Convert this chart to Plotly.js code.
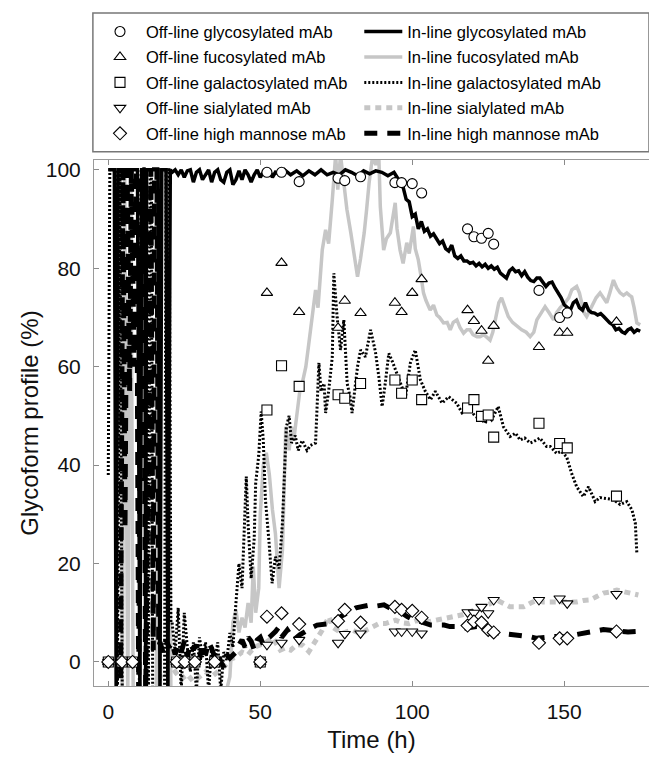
<!DOCTYPE html>
<html><head><meta charset="utf-8">
<script src="https://cdn.plot.ly/plotly-3.0.1.min.js"></script>
<style>html,body{margin:0;padding:0;background:#fff}#chart{width:649px;height:757px}</style>
</head><body><div id="chart"></div>
<script>
// ---------- Off-line (sampled) data ----------
const offTime = [0,4.5,8,22.5,25.2,28.5,35,50,52.2,57,62.8,75.6,77.8,83,94.3,96.5,100,103.1,118.2,120.3,122.8,125,126.8,141.7,148.5,151,167.2];
const offGlycosylated = [0,0,0,0,0,0,0,0,99.5,99.5,97.6,98.3,97.8,98.6,97.4,97.4,97.2,95.3,88,86.4,86.1,87.1,84.9,75.5,70,70.9,null];
const offFucosylated  = [0,0,0,0,0,0,0,0,75.0,81.1,71.1,67.9,73.4,70.9,73.0,71.1,75.0,77.8,71.5,69.3,67.3,61.2,68.3,64.0,66.9,66.9,69.1];
const offGalactosylated = [0,0,0,0,0,0,0,0,51.2,60.2,56.0,54.3,53.6,56.6,57.3,54.6,57.3,53.3,51.6,53.3,49.9,50.2,45.7,48.5,44.4,43.5,33.7];
const offSialylated = [0,0,0,0,0,0,0,0,3.5,3.9,4.5,3.9,5.7,5.8,6.2,6.2,6.2,5.8,10.1,10.0,11.2,9.9,12.6,12.6,12.9,11.9,13.8];
const offHighMannose = [0,0,0,0,0,0,0,0,9.2,9.9,7.7,8.3,10.6,8.0,11.2,10.6,10.4,9.0,7.4,8.2,8.0,6.5,6.0,3.9,4.8,4.8,6.2];

// ---------- In-line (continuous) data, [time h, %] ----------
const inGlycosylated = [[0,100],[2,100],[2.6,-8],[3.2,100],[9.6,100],[10.4,-8],[11,100],[12,100],[12.3,-8],[12.6,100],[16.4,100],[17,-8],[17.6,100],[19,100],[19.6,-8],[20.4,100],
[21,99.5],[22,100],[23,99],[24,100],[25,98.5],[26,99.8],[27,100],[28,97.5],[29,99.5],[30,100],[31,98],[32,99],[33,100],[34,97.5],[35,99.5],[36,100],[37,98],[38,97.5],[39,99.5],[40,100],[41,97],[42,98],[43,99.8],[44,98],[45,100],[46,99],[47,97.5],[48,99],[49,100],[50,98.5],[51,99.5],[52,99],[53,100],[54,98.5],[55,99.5],[57,99],[58,100],
[60,99],[62,99.8],[64,98.8],[66,99.8],[68,99],[70,100],[72,99],[74,99.5],[76,99],[78,100],[80,99.5],[82,98.8],[84,99.8],[86,99.2],[88,99.8],[90,99.5],[92,98.8],[94,99.5],
[95,98.5],[96,97.5],[97,96.5],[98,94],[99,93.5],[100,90.5],[101,91],[102,88],[103,89.5],[104,87.5],[105,88],[106,86.5],[107,87],[108,86],[109,85],[110,85.5],[111,84],[112,83.5],[113,84.7],[114,82.5],[115,82],[116,82.5],[117,81.5],[118,81.5],[119,81],[120,81.2],[121,80.5],[122,81],[123,80.3],[124,80.8],[125,80],[126,80.5],[127,79.8],[128,80.2],[129,79],[130,78.5],[131,78],[132,79.5],[133,80],[134,79.3],[135,79.5],[136,78.5],[137,79.3],[138,78.2],[139,77.5],[140,77.3],[141,78],[142,78],[143,77],[144,76.3],[145,77],[146,77.2],[147,76],[148,75],[149,74],[150,72.6],[151,72],[152,71.5],[153,73],[154,73.5],[155,72],[156,71.5],[157,73],[158,71.5],[159,71],[160,70.9],[161,70.5],[162,70.8],[163,70.2],[164,69.5],[165,68.9],[166,68.5],[167,67.5],[168,67.8],[169,67.1],[170,66.8],[171,67.5],[172,67.8],[173,67],[174,67.5],[175,67.2]];

const inFucosylated = [[3.8,100],[4.6,-8],[5.4,100],[6.4,-8],[7.4,100],[8.2,-8],[15.8,-8],[16.3,100],[19.8,100],[20.6,-8],[38,-8],
[40,-3],[41,8],[42,10.6],[43,6],[44,9],[45,7],[46,12],[47,8],[47.7,19.4],[48.5,10],[49.5,15],[50,30],[51,40],[52,42.5],[53,38],[54,31],[55,26],[56.2,15],[57.3,22.8],[58.4,47.8],[59.5,43],[60.3,47.8],[61,45],[62,50],[63,55],[63.8,56.6],[65,60],[66,64.8],[67,70],[68.2,75.6],[69,72],[70.4,83.7],[71.5,87.8],[72.5,85],[73.7,93.9],[74.8,103],[75.5,96],[76.4,103],[77.5,97.3],[78.5,92],[79.8,87.2],[81,82],[82,78.3],[83,82],[84.2,87.2],[85,92],[85.8,97.3],[87,103],[88,101],[89,103],[89.5,92.5],[90.6,83.7],[91.5,86],[92.8,87.2],[94.4,93.3],[95,88],[96,83.7],[97,81],[98.2,85.2],[99,83],[100.4,88.5],[101,84],[102,81.7],[103,78],[103.7,75],[104.5,73.5],[105.9,71.5],[107,72.5],[108.1,70.5],[109,70],[110.3,68.9],[111.5,69],[112.5,67.5],[113.5,69],[114.7,69.5],[115.7,68],[116.9,66.8],[118,67.5],[119,67.5],[120,66.5],[121.3,66.1],[122.3,66.1],[123.5,66.5],[124.5,66],[125.6,65.4],[126.5,67],[127.8,70.9],[128.5,73],[129.4,74],[130.5,72],[131.6,70.2],[133,69],[134.4,68.2],[136,67.5],[137.5,67],[138.8,66.1],[140,67],[141,69.5],[142.5,71],[143.7,72.2],[145,71],[146.5,69.5],[147.5,71],[148.7,72],[150.3,73],[151.5,74],[152.5,75.6],[154.1,76.3],[155,75],[155.8,73],[156.5,71],[157.4,70.2],[158.5,71.5],[159.6,73],[160.5,74],[161.8,75],[163,74],[164,73],[165,75],[166.2,77.6],[167.3,76],[168.4,75],[169.5,74.5],[170.6,75],[171.5,74.5],[172.2,74.2],[173,72],[173.9,68.9],[175,68.5]];

const inGalactosylated = [[0,38],[0.5,100],[2.5,100],[3,-8],[3.8,100],[4.6,-8],[10.2,-8],[10.8,100],[12.6,100],[13.2,-8],[13.8,100],[14.2,100],[14.6,-8],[18.5,-8],[19,100],[20,100],[20.6,8],
[21,8],[22,2],[23,11],[24,-6],[25,10],[26,3],[27,-2],[28,4],[29,-6],[30,5],[31,1],[32,4],[33,-6],[34,3],[35,0],[36,4],[37,-6],[38,2],[39,0.4],[40,5.9],[41,3],[42,12],[43,20],[44,15],[45.4,37.7],[46,28],[47,17],[48,25],[48.5,36.4],[49.5,42],[50.3,50.9],[51,45],[51.7,33],[52.8,25],[53.9,16],[55,21.4],[56.2,19],[57.3,28.2],[58,40],[58.6,47.8],[59.5,50],[60.3,44.5],[61.5,46],[62.5,43],[63.8,45],[65.4,43],[66.5,44],[68.2,44.5],[69.3,60.8],[70,55],[71,56.6],[71.5,50.6],[72.5,55],[73.7,62],[74.2,79],[75.3,70],[76.4,63.4],[77.5,69.5],[78.6,56.6],[79.5,54],[80.2,50.6],[81.3,56],[82,60],[83,63.4],[84.6,62],[86.3,67.5],[87.9,63],[89,58],[90.1,51.9],[91,56],[92.3,62.7],[93.5,61],[94.5,59.3],[96.1,57],[97.8,53.9],[98.5,57],[99.4,60.8],[101,63.4],[102.7,57.3],[104.3,55],[106,53.3],[107.6,55],[109.8,52.6],[112,53.9],[114.6,52.6],[116.4,50.6],[118.6,51.5],[120.8,49.9],[123,49.2],[124,48.5],[125,50],[126.1,49.2],[128.3,51.9],[130,47.8],[132.2,45.8],[134,46.5],[135.5,45.1],[137,45.5],[138.8,44.5],[140,44.8],[142,45.5],[144.2,43.8],[145.4,43.8],[147.5,42.4],[149,42.8],[150.8,41.7],[152.4,38.4],[154.1,35.6],[156.3,33.6],[158,35.6],[160.2,32.6],[161.8,33.4],[164,33.2],[166.2,33],[168.4,32],[170.6,32.6],[172.3,30.9],[173.4,28.2],[173.9,22.1]];

const inSialylated = [[15.8,-8],[17,-3],[18,-2],[20,-3],[22,-2],[24,-3.5],[26,-2.5],[28,-4],[30,-3],[32,-2],[34,-3],[36,-2],[38,-1],[40,0.5],[42,1],[44,2],[46,1.5],[48,3],[50,3.5],[52,4],[54,5],[56.6,2.4],[58,2.8],[60,2.4],[62,3.5],[64,3.4],[66,2.1],[68,4],[70.4,6.5],[72.6,9.2],[74,7],[77,5.8],[78.5,6.2],[80.2,6.5],[82,6],[83.5,5.8],[85,6.5],[86.8,7.2],[89,7.8],[91.2,7.8],[93,8.2],[94.5,8.5],[96.5,8],[98.9,7.8],[101,8.3],[103.3,8.5],[105.5,8.2],[107.7,8.5],[110,8.8],[112.1,9.2],[114,9.2],[116.5,9.6],[119,10.2],[120.8,10.6],[123.4,11.2],[125.5,11.8],[127.8,12.6],[130,12],[132.2,11.2],[134.5,11.2],[136.6,11.2],[139,12],[141,12.6],[143,12.2],[145.4,12.2],[147.5,12.3],[149.8,12.2],[152,12.4],[154.1,12.2],[156.3,12.5],[158.5,12.6],[160.7,13.3],[162.9,14],[165,14.2],[167.3,14.6],[169.5,14.3],[171.6,14],[174.4,13.6]];

const inHighMannose = [[4,-8],[4.8,100],[5.5,27],[6.2,100],[7,55],[7.6,100],[8.5,60],[9.3,100],[10,-8],[10.8,100],[11.5,100],[11.9,-8],[12.3,-8],[14,100],[14.8,2.4],[15.2,100],[16,100],[16.6,3],
[17,4],[18,2],[19,4.5],[20,3],[21,4],[22,1.5],[23,3.5],[24,2],[25,4.2],[26,1],[27,3.8],[28,2.5],[29,3.5],[30,0.5],[31,3.8],[32,1.5],[33,4],[34,2.8],[35,1],[36,2],[37,0],[38,-1],[39,1.5],[40,0.8],[41,1.5],[42,2],[43,3.5],[44,4.5],[45,3],[46,5],[47,4.2],[48,2.5],[49,4.5],[50,5],[51,3.5],[52,4.6],[53,5],[54,5.5],[55,6.2],[56,7],[57,5],[58.9,6.5],[61,4.5],[63,5.5],[65.4,6.5],[67,7],[68.7,7.5],[71,7.6],[73.1,7.8],[74.5,8.5],[76.4,9.2],[78,10],[79.7,10.6],[81.5,11],[83,11.2],[85,11.4],[86.3,11.6],[88.5,11.4],[90.7,11.6],[92.5,11],[94,10.6],[96.5,10],[98.4,9.2],[100.5,8.5],[102.8,8.2],[104.5,7.8],[106.1,7.5],[108.5,7.5],[110.5,7.5],[112.4,7.2],[114.5,7.2],[116.8,6.8],[119,7.1],[121.2,7.2],[122.8,6.8],[124.5,6.2],[127,6],[130,5.8],[133,5.7],[136.6,5.5],[139,5.1],[141,4.8],[143,5],[145.4,5],[147.5,5.2],[149.8,5.1],[152,5.3],[154.1,5.5],[156.3,5.8],[158.5,6],[160.5,6.3],[162.9,6.6],[164.5,6.5],[166.2,6.3],[168.5,6.2],[171,6.1],[173.9,6.2]];

const xTicks = [0,50,100,150];
const yTicks = [0,20,40,60,80,100];

// ---------- build ----------
const FONT = 'Liberation Sans, Arial, sans-serif';
const GRAY = '#c6c6c6';
const tx = p => p.map(d => d[0]);
const ty = p => p.map(d => d[1]);

function lineTrace(p, name, rank, line){
  return {x: tx(p), y: ty(p), mode: 'lines', name: name, line: line,
          legend: 'legend2', legendgroup: 'in' + rank, legendrank: rank, hoverinfo: 'skip'};
}
function markerTrace(y, name, rank, symbol){
  return {x: offTime, y: y, mode: 'markers', name: name,
          marker: {symbol: symbol, size: 10, color: '#fff', line: {color: '#000', width: 1.1}},
          legend: 'legend', legendgroup: 'off' + rank, legendrank: rank, hoverinfo: 'skip'};
}

const traces = [
  lineTrace(inFucosylated, 'In-line fucosylated mAb', 2, {color: GRAY, width: 3.5}),
  lineTrace(inSialylated, 'In-line sialylated mAb', 4, {color: GRAY, width: 5, dash: '6px,5px'}),
  lineTrace(inGalactosylated, 'In-line galactosylated mAb', 3, {color: '#000', width: 3, dash: '2px,2px'}),
  lineTrace(inHighMannose, 'In-line high mannose mAb', 5, {color: '#000', width: 5, dash: '13px,10px'}),
  lineTrace(inGlycosylated, 'In-line glycosylated mAb', 1, {color: '#000', width: 3.5}),
  markerTrace(offGlycosylated, 'Off-line glycosylated mAb', 1, 'circle'),
  markerTrace(offFucosylated, 'Off-line fucosylated mAb', 2, 'triangle-up'),
  markerTrace(offGalactosylated, 'Off-line galactosylated mAb', 3, 'square'),
  markerTrace(offSialylated, 'Off-line sialylated mAb', 4, 'triangle-down'),
  markerTrace(offHighMannose, 'Off-line high mannose mAb', 5, 'diamond')
];

const legendCommon = {
  bgcolor: 'rgba(0,0,0,0)', borderwidth: 0, orientation: 'v',
  xanchor: 'left', yanchor: 'top', tracegroupgap: 1,
  font: {family: FONT, size: 16.5, color: '#000'}
};

const axisCommon = {
  ticks: 'inside', ticklen: 5, tickwidth: 1, tickcolor: '#8a8a8a',
  showline: true, linecolor: '#9a9a9a', linewidth: 1,
  showgrid: false, zeroline: false,
  tickfont: {family: FONT, size: 21, color: '#111'}
};

const layout = {
  width: 649, height: 757,
  margin: {l: 94, r: 0, t: 160, b: 71, pad: 0},
  paper_bgcolor: '#fff', plot_bgcolor: '#fff',
  showlegend: true,
  xaxis: Object.assign({}, axisCommon, {
    range: [-4.7, 177.9], tickvals: xTicks, mirror: 'ticks', ticklabelstandoff: 7,
    title: {text: 'Time (h)', font: {family: FONT, size: 24, color: '#111'}, standoff: 8}
  }),
  yaxis: Object.assign({}, axisCommon, {
    range: [-4.88, 102.0], tickvals: yTicks, ticklabelstandoff: 8,
    title: {text: 'Glycoform profile (%)', font: {family: FONT, size: 24, color: '#111'}, standoff: 0}
  }),
  legend: Object.assign({}, legendCommon, {x: 0.0, y: 1.277, itemwidth: 42}),
  legend2: Object.assign({}, legendCommon, {x: 0.478, y: 1.277, itemwidth: 38}),
  shapes: [{type: 'rect', xref: 'paper', yref: 'paper', x0: -0.002, x1: 1.0, y0: 1.0158, y1: 1.2795,
            line: {color: '#777', width: 1.5}, fillcolor: 'rgba(0,0,0,0)'}]
};

Plotly.newPlot('chart', traces, layout, {displayModeBar: false, staticPlot: true});
</script>
</body></html>
